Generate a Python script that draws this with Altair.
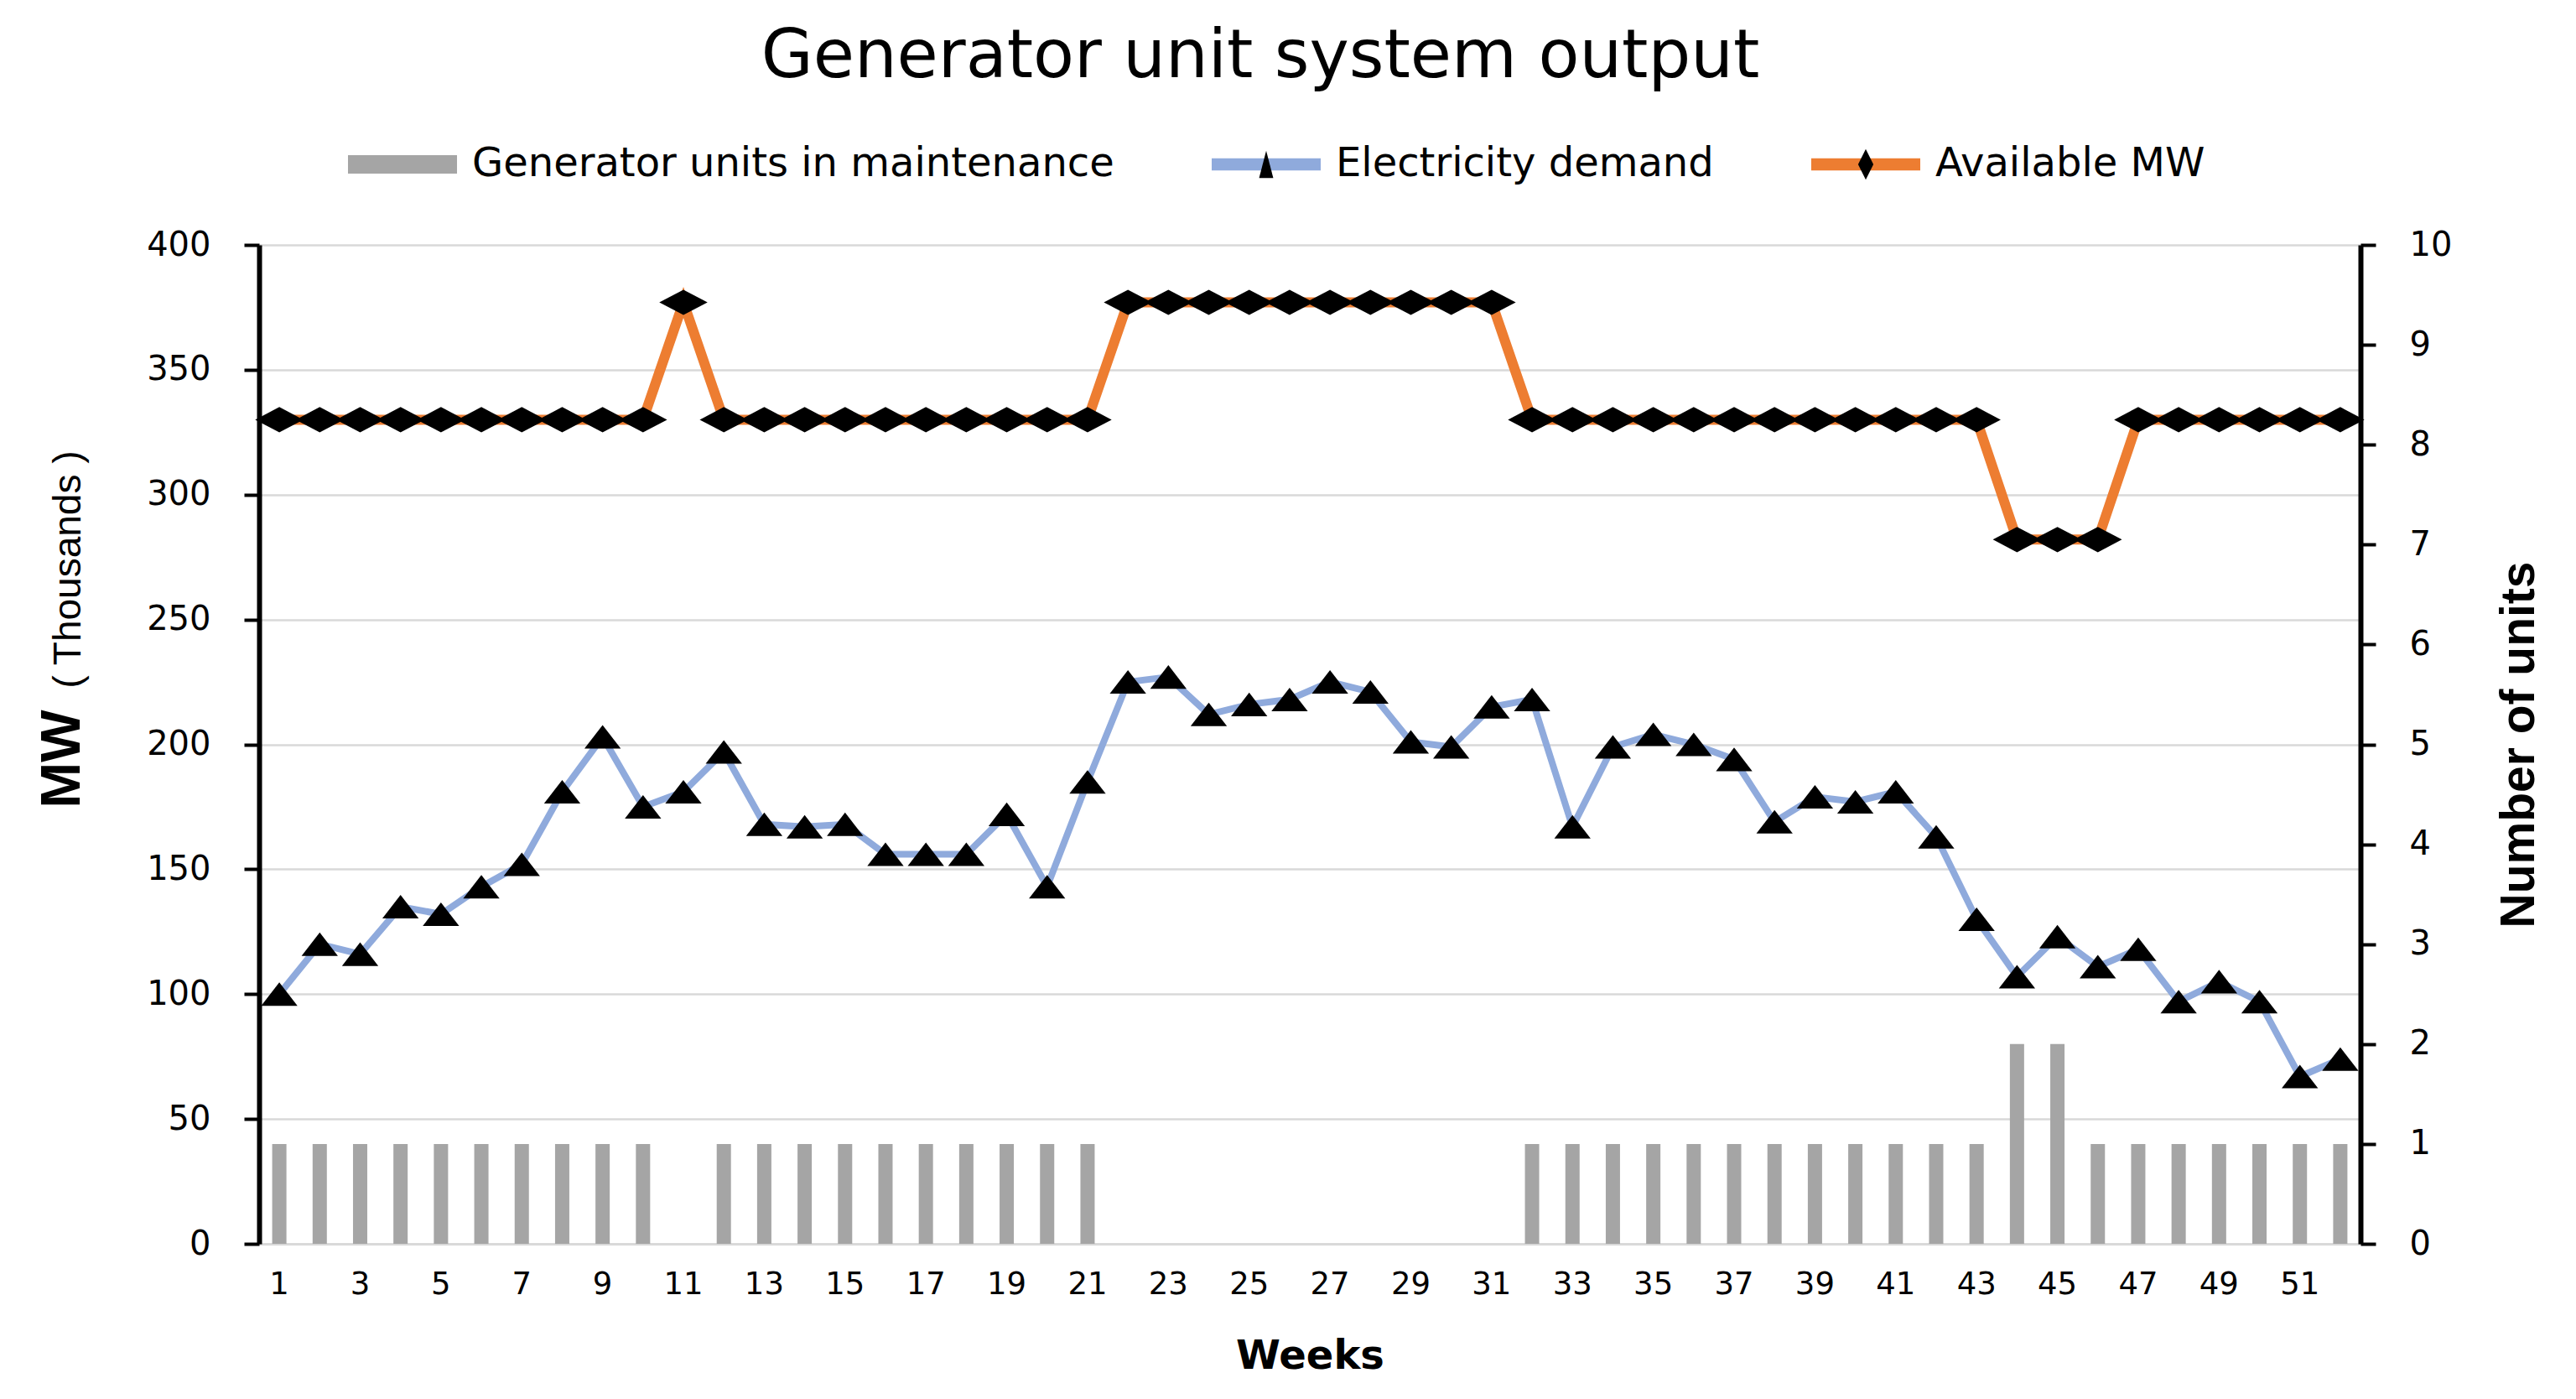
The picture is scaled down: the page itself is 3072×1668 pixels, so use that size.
import altair as alt
import pandas as pd

weeks = list(range(1, 53))
demand = [100, 120, 116, 135, 132, 143, 152, 181, 203, 175,
          181, 197, 168, 167, 168, 156, 156, 156, 172, 143,
          185, 225, 227, 212, 216, 218, 225, 221, 201, 199,
          215, 218, 167, 199, 204, 200, 194, 169, 179, 177,
          181, 163, 130, 107, 123, 111, 118, 97, 105, 97,
          67, 74]
available = [330, 330, 330, 330, 330, 330, 330, 330, 330, 330,
             377, 330, 330, 330, 330, 330, 330, 330, 330, 330,
             330, 377, 377, 377, 377, 377, 377, 377, 377, 377,
             377, 330, 330, 330, 330, 330, 330, 330, 330, 330,
             330, 330, 330, 282, 282, 282, 330, 330, 330, 330,
             330, 330]
maintenance = [1, 1, 1, 1, 1, 1, 1, 1, 1, 1,
               0, 1, 1, 1, 1, 1, 1, 1, 1, 1,
               1, 0, 0, 0, 0, 0, 0, 0, 0, 0,
               0, 1, 1, 1, 1, 1, 1, 1, 1, 1,
               1, 1, 1, 2, 2, 1, 1, 1, 1, 1,
               1, 1]
series_names = ["Generator units in maintenance", "Electricity demand", "Available MW"]
series_colors = ["#A5A5A5", "#8FAADC", "#ED7D31"]

df = pd.DataFrame({
    "week": weeks,
    "demand": demand,
    "available": available,
    "maint": maintenance,
    "series": [series_names[0]] * len(weeks),
})
marker_df = pd.DataFrame({"marker": series_names[1:]})

FONT = "DejaVu Sans"
NARROW = "Liberation Sans"
TRI = "M0,-0.55L0.85,0.55L-0.85,0.55Z"
DIA = "M-1.05,0L0,-0.55L1.05,0L0,0.55Z"
TRI_LEG = "M0,-0.25L0.13,0.25L-0.13,0.25Z"
DIA_LEG = "M-0.14,0L0,-0.28L0.14,0L0,0.28Z"

x_enc = alt.X(
    "week:O",
    scale=alt.Scale(paddingInner=0, paddingOuter=0),
    axis=alt.Axis(
        title="Weeks", labelAngle=0, labelOverlap=False,
        labelExpr="datum.value % 2 == 1 ? datum.label : ''",
        ticks=False, domainColor="#d9d9d9", domainWidth=3,
        labelFont=FONT, labelFontSize=37, labelColor="#000000", labelPadding=30,
        titleFont=FONT, titleFontSize=48, titleFontWeight="bold",
        titleColor="#000000", titlePadding=44,
    ),
)

left_axis = alt.Axis(
    title=None, orient="left", values=[0, 50, 100, 150, 200, 250, 300, 350, 400],
    grid=True, gridColor="#d9d9d9", gridWidth=2.5,
    domainColor="#000000", domainWidth=6, tickColor="#000000", tickWidth=4, tickSize=18,
    labelFont=FONT, labelFontSize=40, labelColor="#000000", labelPadding=40,
)
y_left_demand = alt.Y("demand:Q", scale=alt.Scale(domain=[0, 400]), axis=left_axis)
y_left_avail = alt.Y("available:Q", scale=alt.Scale(domain=[0, 400]), axis=left_axis)

legend_common = dict(
    title=None, orient="none", legendY=-161, direction="horizontal",
    symbolSize=16900, symbolStrokeWidth=0, symbolOpacity=1,
    labelFont=FONT, labelFontSize=48, labelColor="#000000", labelLimit=0,
    labelOffset=18, columnPadding=116,
)

bars = alt.Chart(df).mark_bar(size=17).encode(
    x=x_enc,
    y=alt.Y(
        "maint:Q", scale=alt.Scale(domain=[0, 10]),
        axis=alt.Axis(
            orient="right", values=list(range(11)), title="Number of units", grid=False,
            domainColor="#000000", domainWidth=6, tickColor="#000000", tickWidth=4, tickSize=18,
            labelFont=FONT, labelFontSize=40, labelColor="#000000", labelPadding=40,
            titleFont=NARROW, titleFontSize=57, titleFontWeight="bold", titleColor="#000000",
            titleAngle=270, titlePadding=110,
        ),
    ),
    color=alt.Color(
        "series:N",
        scale=alt.Scale(domain=series_names, range=series_colors),
        legend=alt.Legend(
            legendX=106,
            symbolType=alt.ExprRef(expr="datum.value == 'Generator units in maintenance' ? 'M-1,-0.17H1V0.17H-1Z' : 'M-1,-0.11H1V0.11H-1Z'"),
            **legend_common,
        ),
    ),
)

avail_line = alt.Chart(df).mark_line(color=series_colors[2], strokeWidth=12).encode(x=x_enc, y=y_left_avail)
avail_pts = alt.Chart(df).mark_point(shape=DIA, size=3000, filled=True, color="#000000", opacity=1).encode(x=x_enc, y=y_left_avail)
demand_line = alt.Chart(df).mark_line(color=series_colors[1], strokeWidth=8).encode(x=x_enc, y=y_left_demand)
demand_pts = alt.Chart(df).mark_point(shape=TRI, size=2600, filled=True, color="#000000", opacity=1).encode(x=x_enc, y=y_left_demand)

left_layers = alt.layer(avail_line, avail_pts, demand_line, demand_pts)

# invisible layer whose only job is to put the black marker glyphs on the legend lines
marker_legend = alt.Chart(marker_df).mark_point(filled=True, color="#000000", opacity=0, size=16900).encode(
    shape=alt.Shape(
        "marker:N",
        scale=alt.Scale(domain=series_names[1:], range=[TRI_LEG, DIA_LEG]),
        legend=alt.Legend(
            legendX=1136, symbolFillColor="#000000", labelOpacity=0,
            **legend_common,
        ),
    ),
)

mw_text = alt.Chart(pd.DataFrame({"t": ["MW"]})).mark_text(
    angle=270, font=NARROW, fontSize=66, fontWeight="bold", color="#000000",
    align="center", baseline="middle",
).encode(text="t:N", x=alt.value(-234), y=alt.value(613))
th_text = alt.Chart(pd.DataFrame({"t": ["( Thousands )"]})).mark_text(
    angle=270, font=NARROW, fontSize=46, color="#000000",
    align="center", baseline="middle",
).encode(text="t:N", x=alt.value(-227), y=alt.value(387))

chart = alt.layer(bars, left_layers, marker_legend, mw_text, th_text).resolve_scale(y="independent").properties(
    width=2506, height=1191,
    autosize=alt.AutoSizeParams(type="none"),
    padding={"left": 301, "top": 284, "right": 240, "bottom": 170},
    title=alt.TitleParams(
        "Generator unit system output", font=FONT, fontSize=80, fontWeight="normal",
        color="#000000", anchor="middle", dx=-59, offset=22,
    ),
    background="white",
).configure_view(stroke=None)

chart.save("out.html", embed_options={"renderer": "svg", "actions": False})
